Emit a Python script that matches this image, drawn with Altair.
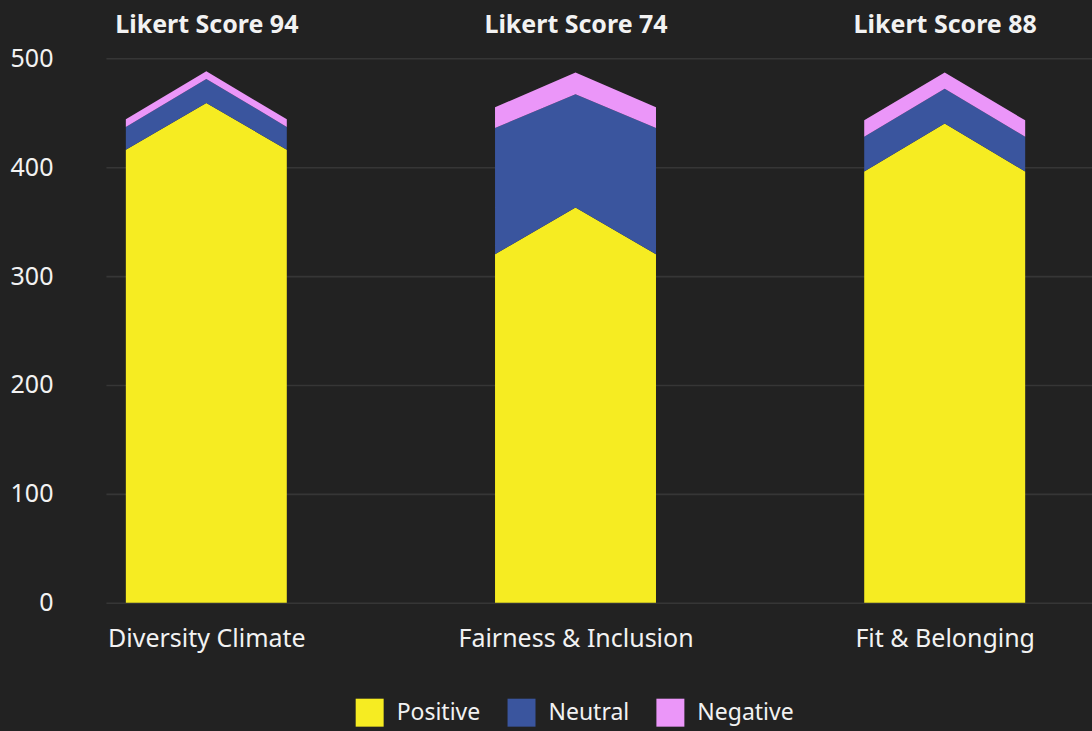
import altair as alt
import pandas as pd

categories = ["Diversity Climate", "Fairness & Inclusion", "Fit & Belonging"]
scores = [94, 74, 88]
sentiments = ["Positive", "Neutral", "Negative"]
colors = ["#F6EC22", "#3A559E", "#EB96F9"]

# layer thickness at the side edges and at the centre peak, per category
edge_values = {
    "Positive": [416, 320, 396],
    "Neutral": [21, 116, 32],
    "Negative": [7, 19, 15],
}
peak_values = {
    "Positive": [459, 363, 440],
    "Neutral": [22, 104, 32],
    "Negative": [7, 20, 15],
}

HALF = 0.218
rows = []
for ci, cat in enumerate(categories):
    for k, s in enumerate(sentiments):
        for off, src in ((-HALF, edge_values), (0.0, peak_values), (HALF, edge_values)):
            rows.append({"category": cat, "sentiment": s, "k": k,
                         "x": ci + off, "v": src[s][ci]})
df = pd.DataFrame(rows)

cat_expr = "[" + ",".join("'" + c + "'" for c in categories) + "][datum.value]"
score_expr = "[" + ",".join("'Likert Score " + str(s) + "'" for s in scores) + "][datum.value]"

xscale = alt.Scale(domain=[-0.272, 2.399], nice=False, zero=False)

base = alt.Chart(df)

areas = base.transform_stack(
    stack="v", groupby=["x"], sort=[alt.SortField("k", order="ascending")], as_=["y0", "y1"]
).mark_area(interpolate="linear").encode(
    x=alt.X("x:Q", scale=xscale,
            axis=alt.Axis(values=[0, 1, 2], labelExpr=cat_expr, grid=False, domain=False,
                          ticks=False, title=None, labelPadding=24, labelFontSize=25,
                          labelLimit=0, orient="bottom")),
    y=alt.Y("y1:Q", scale=alt.Scale(domain=[0, 500], nice=False),
            axis=alt.Axis(values=[0, 100, 200, 300, 400, 500], title=None, domain=False,
                          ticks=False, labelPadding=53, labelFontSize=25,
                          gridColor="#363636", gridWidth=1.6)),
    y2="y0:Q",
    color=alt.Color("sentiment:N",
                    scale=alt.Scale(domain=sentiments, range=colors),
                    legend=alt.Legend(orient="none", legendX=250, legendY=641,
                                      direction="horizontal", title=None,
                                      symbolType="square", symbolSize=784,
                                      symbolStrokeWidth=0, labelFontSize=23,
                                      labelOffset=13, columnPadding=27,
                                      padding=0)),
    detail="category:N",
)

titles = base.mark_point(opacity=0).encode(
    x=alt.X("x:Q", scale=xscale,
            axis=alt.Axis(values=[0, 1, 2], labelExpr=score_expr, grid=False, domain=False,
                          ticks=False, title=None, orient="top", labelPadding=21,
                          labelFontSize=25, labelFontWeight="bold", labelLimit=0)),
)

chart = alt.layer(areas, titles).resolve_axis(x="independent").properties(
    width=987, height=545, background="#222222",
    padding={"left": 10, "right": 0, "top": 12, "bottom": 0},
).configure_view(stroke=None).configure_axis(
    labelColor="#F2F2F2", labelFont="Noto Sans"
).configure_legend(
    labelColor="#F2F2F2", labelFont="Noto Sans"
)

PAGE = """<!DOCTYPE html>
<html>
<head>
  <style>
    html, body { margin: 0; padding: 0; background: #222222; overflow: hidden; }
    #{{ output_div }}.vega-embed { width: 100%; display: flex; }
    #{{ output_div }}.vega-embed details,
    #{{ output_div }}.vega-embed details summary { position: relative; }
  </style>
  <script type="text/javascript" src="{{ base_url }}/vega@{{ vega_version }}"></script>
  <script type="text/javascript" src="{{ base_url }}/vega-lite@{{ vegalite_version }}"></script>
  <script type="text/javascript" src="{{ base_url }}/vega-embed@{{ vegaembed_version }}"></script>
</head>
<body>
  <div id="{{ output_div }}"></div>
  <script>
    (function(vegaEmbed) {
      var spec = {{ spec }};
      var embedOpt = {{ embed_options }};
      function showError(el, error){
        el.innerHTML = ('<div style="color:red;"><p>JavaScript Error: ' + error.message + '</p></div>');
        throw error;
      }
      const el = document.getElementById('{{ output_div }}');
      vegaEmbed("#{{ output_div }}", spec, embedOpt).catch(error => showError(el, error));
    })(vegaEmbed);
  </script>
</body>
</html>
"""

try:
    import jinja2
    chart.save("out.html", embed_options={"renderer": "svg", "actions": False},
               template=jinja2.Template(PAGE))
except Exception:
    chart.save("out.html", embed_options={"renderer": "svg", "actions": False})
